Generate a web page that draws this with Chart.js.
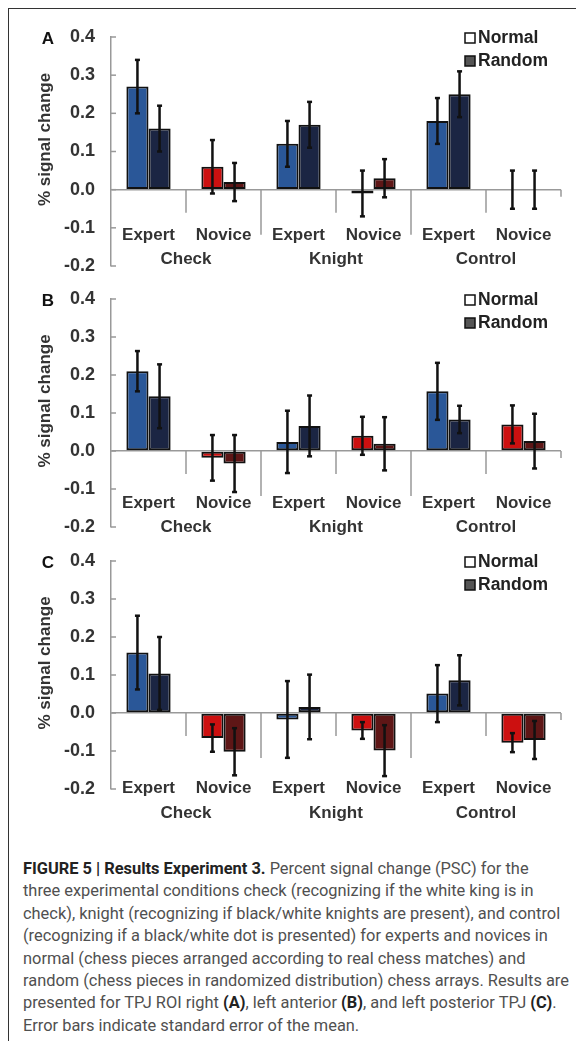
<!DOCTYPE html>
<html>
<head>
<meta charset="utf-8">
<script src="https://cdn.jsdelivr.net/npm/chart.js@4.4.1/dist/chart.umd.min.js"></script>
<style>
  body { margin: 0; background: #fff; width: 576px; height: 1041px; overflow: hidden; position: relative; }
  #frame { position: absolute; left: 8px; top: 8px; width: 620px; height: 1100px;
           border-left: 1.5px solid #333; border-top: 1.5px solid #333; }
  canvas { position: absolute; left: 0; }
  #caption { position: absolute; left: 23px; top: 858px; font-family: Roboto, 'Liberation Sans', sans-serif;
             font-size: 16.4px; line-height: 22.4px; color: #505050; white-space: nowrap; }
  #caption b { color: #222; }
</style>
</head>
<body>
<div id="frame"></div>
<canvas id="chartA" width="576" height="306" style="top:0px"></canvas>
<canvas id="chartB" width="576" height="309" style="top:259px"></canvas>
<canvas id="chartC" width="576" height="313" style="top:521px"></canvas>
<div id="caption">
<b>FIGURE 5 | Results Experiment 3.</b> Percent signal change (PSC) for the<br>
three experimental conditions check (recognizing if the white king is in<br>
check), knight (recognizing if black/white knights are present), and control<br>
(recognizing if a black/white dot is presented) for experts and novices in<br>
normal (chess pieces arranged according to real chess matches) and<br>
random (chess pieces in randomized distribution) chess arrays. Results are<br>
presented for TPJ ROI right <b>(A)</b>, left anterior <b>(B)</b>, and left posterior TPJ <b>(C)</b>.<br>
Error bars indicate standard error of the mean.
</div>
<script>
// categories
const subLabels = ['Expert', 'Novice', 'Expert', 'Novice', 'Expert', 'Novice'];
const groupLabels = ['Check', 'Knight', 'Control'];
const seriesNames = ['Normal', 'Random'];
const yTicks = [-0.2, -0.1, 0.0, 0.1, 0.2, 0.3, 0.4];

// panel A - TPJ right
const normalA    = [0.27, 0.06, 0.12, -0.01, 0.18, 0.00];
const normalErrA = [0.07, 0.07, 0.06, 0.06, 0.06, 0.05];
const randomA    = [0.16, 0.02, 0.17, 0.03, 0.25, 0.00];
const randomErrA = [0.06, 0.05, 0.06, 0.05, 0.06, 0.05];

// panel B - left anterior
const normalB    = [0.21, -0.018, 0.024, 0.04, 0.157, 0.07];
const normalErrB = [0.053, 0.06, 0.082, 0.05, 0.075, 0.05];
const randomB    = [0.144, -0.033, 0.066, 0.019, 0.083, 0.026];
const randomErrB = [0.084, 0.075, 0.08, 0.07, 0.036, 0.072];

// panel C - left posterior
const normalC    = [0.159, -0.066, -0.017, -0.046, 0.051, -0.078];
const normalErrC = [0.097, 0.036, 0.101, 0.022, 0.075, 0.025];
const randomC    = [0.104, -0.102, 0.016, -0.099, 0.086, -0.071];
const randomErrC = [0.096, 0.062, 0.085, 0.067, 0.066, 0.05];

const expertBlue = '#2a5798', expertNavy = '#1b2543';
const noviceRed = '#cc1010', noviceDark = '#5e1616';
const boldFont = 'bold 17px "Liberation Sans", Arial, sans-serif';

function line(ctx, x1, y1, x2, y2) {
  ctx.beginPath(); ctx.moveTo(x1, y1); ctx.lineTo(x2, y2); ctx.stroke();
}

const panelDecor = {
  id: 'panelDecor',
  beforeDatasetsDraw(chart) {
    const { ctx, chartArea: a, scales: { x, y } } = chart;
    const y0 = y.getPixelForValue(0);
    const n = subLabels.length;
    ctx.save();
    ctx.strokeStyle = '#999';
    ctx.lineWidth = 1.5;
    // small tick marks on the inside of the y axis
    y.ticks.forEach((t, i) => {
      const py = y.getPixelForTick(i);
      line(ctx, a.left, py, a.left + 5, py);
    });
    // category separators hanging from the zero line
    for (let i = 1; i <= n; i++) {
      const bx = i < n ? (x.getPixelForValue(i - 1) + x.getPixelForValue(i)) / 2 : a.right;
      const len = i === n ? 7 : (i % 2 === 0 ? 45 : 23);
      line(ctx, bx, y0, bx, y0 + len);
    }
    ctx.restore();
  },
  afterDatasetsDraw(chart, args, opts) {
    const { ctx, scales: { y } } = chart;
    ctx.save();
    ctx.strokeStyle = '#111';
    ctx.lineWidth = 2.5;
    chart.data.datasets.forEach((ds, d) => {
      chart.getDatasetMeta(d).data.forEach((bar, i) => {
        const v = ds.data[i], e = opts.errs[d][i];
        const top = y.getPixelForValue(v + e), bot = y.getPixelForValue(v - e);
        line(ctx, bar.x, top, bar.x, bot);
        line(ctx, bar.x - 2.5, top, bar.x + 2.5, top);
        line(ctx, bar.x - 2.5, bot, bar.x + 2.5, bot);
      });
    });
    ctx.restore();
  },
  afterDraw(chart, args, opts) {
    const { ctx, chartArea: a, scales: { x } } = chart;
    ctx.save();
    ctx.font = boldFont;
    ctx.textBaseline = 'middle';
    // panel letter
    ctx.fillStyle = '#111';
    ctx.textAlign = 'center';
    ctx.fillText(opts.letter, 48, a.top + 2);
    // y title
    ctx.fillStyle = '#333';
    ctx.save();
    ctx.translate(45, (a.top + a.bottom) / 2 - 12);
    ctx.rotate(-Math.PI / 2);
    ctx.fillText('% signal change', 0, 0);
    ctx.restore();
    // category labels
    subLabels.forEach((lab, i) => {
      ctx.fillText(lab, x.getPixelForValue(i), a.bottom + opts.subY);
    });
    groupLabels.forEach((lab, g) => {
      const cx = (x.getPixelForValue(2 * g) + x.getPixelForValue(2 * g + 1)) / 2;
      ctx.fillText(lab, cx, a.bottom + opts.groupY);
    });
    // legend
    const fills = ['#ffffff', '#555555'];
    ctx.textAlign = 'left';
    ctx.font = 'bold 17.5px "Liberation Sans", Arial, sans-serif';
    seriesNames.forEach((name, k) => {
      const cy = a.top + 1 + k * 23;
      ctx.fillStyle = fills[k];
      ctx.strokeStyle = '#111';
      ctx.lineWidth = 1.5;
      ctx.fillRect(a.right - 96, cy - 5, 10, 10);
      ctx.strokeRect(a.right - 96, cy - 5, 10, 10);
      ctx.fillStyle = '#222';
      ctx.fillText(name, a.right - 83, cy);
    });
    ctx.restore();
  }
};

function makePanel(id, letter, normal, normalErr, random, randomErr, padTop, padBottom, subY, groupY) {
  new Chart(document.getElementById(id), {
    type: 'bar',
    data: {
      labels: subLabels,
      datasets: [
        {
          label: seriesNames[0],
          data: normal,
          backgroundColor: subLabels.map(s => s === 'Expert' ? expertBlue : noviceRed),
          borderColor: '#111',
          borderWidth: 2,
          borderSkipped: false
        },
        {
          label: seriesNames[1],
          data: random,
          backgroundColor: subLabels.map(s => s === 'Expert' ? expertNavy : noviceDark),
          borderColor: '#111',
          borderWidth: 2,
          borderSkipped: false
        }
      ]
    },
    options: {
      responsive: false,
      animation: false,
      events: [],
      categoryPercentage: 0.59,
      barPercentage: 1.0,
      layout: { padding: { left: 0, right: 15, top: padTop, bottom: padBottom } },
      scales: {
        x: { display: false },
        y: {
          min: yTicks[0],
          max: yTicks[yTicks.length - 1],
          afterFit: (s) => { s.width = 111; },
          afterBuildTicks: (s) => { s.ticks = yTicks.map(v => ({ value: v })); },
          ticks: {
            padding: 16,
            color: '#333',
            font: { family: '"Liberation Sans", Arial, sans-serif', size: 18, weight: 'bold' },
            callback: (v) => (Math.abs(v) < 1e-9 ? 0 : v).toFixed(1)
          },
          grid: {
            drawTicks: false,
            lineWidth: 1.5,
            color: (c) => (c.tick && Math.abs(c.tick.value) < 1e-9) ? '#999' : 'rgba(0,0,0,0)'
          },
          border: { display: true, color: '#999', width: 1.5 }
        }
      },
      plugins: {
        legend: { display: false },
        tooltip: { enabled: false },
        panelDecor: { letter, subY, groupY, errs: [normalErr, randomErr] }
      }
    },
    plugins: [panelDecor]
  });
}

makePanel('chartA', 'A', normalA, normalErrA, randomA, randomErrA, 37, 40, -31, -7);
makePanel('chartB', 'B', normalB, normalErrB, randomB, randomErrB, 40, 41, -24, 0);
makePanel('chartC', 'C', normalC, normalErrC, randomC, randomErrC, 40, 45, -1, 24);
</script>
</body>
</html>
